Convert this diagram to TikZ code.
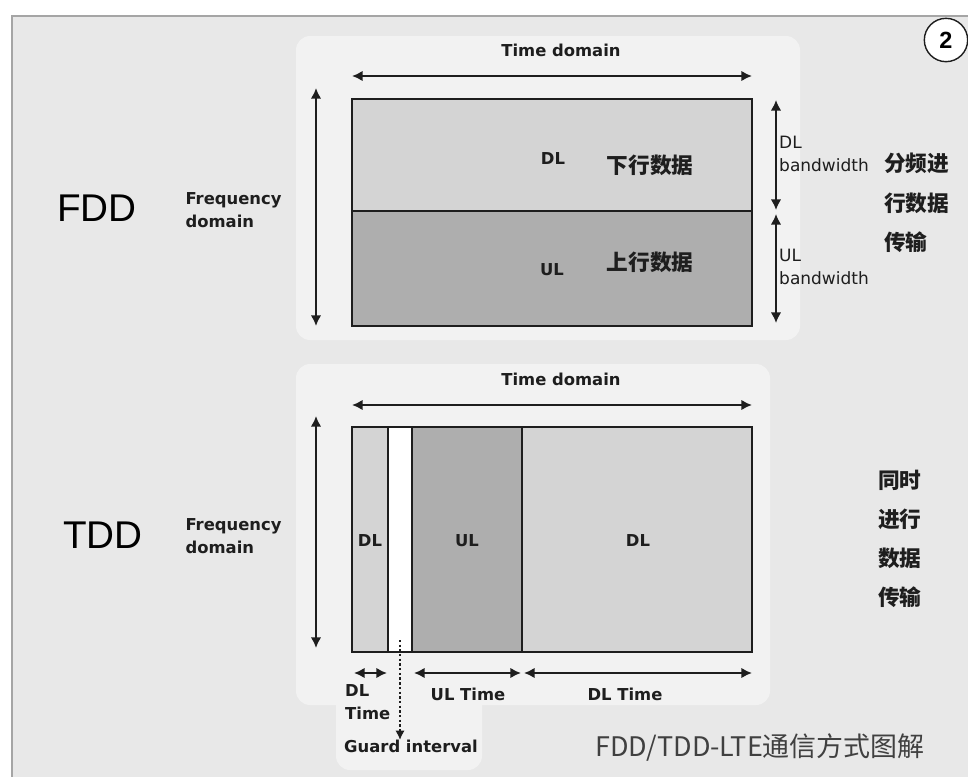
\documentclass[tikz,border=0pt]{standalone}
\usepackage{fontspec}
\setmainfont{DejaVu Sans}
\newfontfamily\cjk{Noto Sans CJK SC}
\newfontfamily\arial{Liberation Sans}
\usetikzlibrary{arrows.meta,positioning}
\definecolor{panel}{RGB}{232,232,232}
\definecolor{frame}{RGB}{165,165,165}
\definecolor{ink}{RGB}{30,30,30}
\definecolor{dlfill}{RGB}{212,212,212}
\definecolor{ulfill}{RGB}{174,174,174}
\definecolor{halo}{RGB}{242,242,242}
\newcommand{\fsdim}{\fontsize{14}{17}\selectfont}
\newcommand{\fscn}{\fontsize{18.5}{33.5}\selectfont}
\tikzstyle{dimarrow} = [
    line width=2.2pt,
    draw=ink,
    {Latex[length=9pt,width=9pt]}-{Latex[length=9pt,width=9pt]}
]
\tikzstyle{slot} = [
    draw=ink,
    line width=1.5pt
]
\tikzstyle{dimtext} = [
    font=\fsdim\bfseries,
    text=ink,
    inner sep=2pt
]
\tikzstyle{bwtext} = [
    font=\fontsize{14.5}{17}\selectfont,
    text=ink,
    inner sep=0pt,
    align=left,
    anchor=west
]
\tikzstyle{slottext} = [
    font=\fsdim\bfseries,
    text=ink,
    inner sep=0pt
]
\tikzstyle{cntext} = [
    font=\cjk\fscn\bfseries,
    text=ink,
    inner sep=0pt,
    align=left
]
\tikzstyle{bigtext} = [
    font=\arial\fontsize{33}{40}\selectfont,
    text=black,
    inner sep=0pt
]

\begin{document}
\begin{tikzpicture}[x=0.03cm, y=-0.03cm]
    \useasboundingbox (0,0) rectangle (968,777);
    % panel
    \fill[white] (0,0) rectangle (968,777);
    \draw[frame, line width=1.5pt, fill=panel] (12,16) rectangle (990,800);
    \node[circle, draw=ink, line width=1.2pt, fill=white, minimum size=1.3cm,
          font=\arial\fontsize{20}{24}\selectfont\bfseries] (badge) at (946,40) {2};
    % soft halos
    \fill[halo, rounded corners=12] (296,36) rectangle (800,340);
    \fill[halo, rounded corners=12] (296,364) rectangle (770,705);
    \fill[halo, rounded corners=12] (336,690) rectangle (482,770);

    % ---------- FDD ----------
    \node[bigtext] (fdd) at (97,208) {FDD};
    \node[dimtext, align=left, anchor=west] (ffreq) at (183,210) {Frequency\\[3pt]domain};
    \node[dimtext] (ftime) at (561,50) {Time domain};
    \draw[slot, fill=dlfill] (352,99) rectangle (752,211);
    \draw[slot, fill=ulfill] (352,211) rectangle (752,326);
    \node[slottext] (fdl) at (553,159) {DL};
    \node[slottext] (ful) at (552,270) {UL};
    \node[cntext] (fdlcn) at (650,165) {下行数据};
    \node[cntext] (fulcn) at (650,262) {上行数据};
    \coordinate (ftl) at (352,76);
    \coordinate (ftr) at (752,76);
    \coordinate (fft) at (316,88);
    \coordinate (ffb) at (316,326);
    \coordinate (fbt) at (776,100);
    \coordinate (fbm) at (776,210);
    \coordinate (fbn) at (776,214);
    \coordinate (fbb) at (776,323);
    \draw[dimarrow] (ftl) -- (ftr);
    \draw[dimarrow] (fft) -- (ffb);
    \draw[dimarrow, line width=1.6pt] (fbt) -- (fbm);
    \draw[dimarrow, line width=1.6pt] (fbn) -- (fbb);
    \node[bwtext] (fdlbw) at (779,154) {DL\\[2pt]bandwidth};
    \node[bwtext] (fulbw) at (779,267) {UL\\[2pt]bandwidth};
    \node[cntext, anchor=west] (fnote) at (884,203) {分频进\\行数据\\传输};

    % ---------- TDD ----------
    \node[bigtext] (tdd) at (103,535) {TDD};
    \node[dimtext, align=left, anchor=west] (tfreq) at (183,536) {Frequency\\[3pt]domain};
    \node[dimtext] (ttime) at (561,379) {Time domain};
    \draw[slot, fill=dlfill] (352,427) rectangle (388,652);
    \draw[slot, fill=white] (388,427) rectangle (412,652);
    \draw[slot, fill=ulfill] (412,427) rectangle (522,652);
    \draw[slot, fill=dlfill] (522,427) rectangle (752,652);
    \node[slottext] (tdl1) at (370,541) {DL};
    \node[slottext] (tul) at (467,541) {UL};
    \node[slottext] (tdl2) at (638,541) {DL};
    \coordinate (ttl) at (352,405);
    \coordinate (ttr) at (752,405);
    \coordinate (tft) at (316,416);
    \coordinate (tfb) at (316,648);
    \draw[dimarrow] (ttl) -- (ttr);
    \draw[dimarrow] (tft) -- (tfb);
    \coordinate (d1l) at (354,673);
    \coordinate (d1r) at (387,673);
    \coordinate (ul) at (414,673);
    \coordinate (ur) at (521,673);
    \coordinate (d2l) at (524,673);
    \coordinate (d2r) at (752,673);
    \draw[dimarrow] (d1l) -- (d1r);
    \draw[dimarrow] (ul) -- (ur);
    \draw[dimarrow] (d2l) -- (d2r);
    \node[dimtext, align=left, anchor=north west, inner sep=0pt] (tdlt) at (345,684) {DL\\[3pt]Time};
    \node[dimtext] (tult) at (468,694) {UL Time};
    \node[dimtext] (tdl2t) at (625,694) {DL Time};
    \coordinate (gtop) at (400,640);
    \coordinate (gbot) at (400,740);
    \draw[ink, line width=2.4pt, dash pattern=on 2pt off 2pt, -{Latex[length=8pt,width=8pt]}] (gtop) -- (gbot);
    \node[dimtext, anchor=north west, inner sep=0pt] (guard) at (344,740) {Guard interval};
    \node[cntext, anchor=west] (tnote) at (878,539) {同时\\进行\\数据\\传输};

    % caption
    \node[font=\cjk\fontsize{23}{28}\selectfont, text=ink!85, inner sep=0pt] (caption) at (760,748) {FDD/TDD-LTE通信方式图解};
\end{tikzpicture}
\end{document}
